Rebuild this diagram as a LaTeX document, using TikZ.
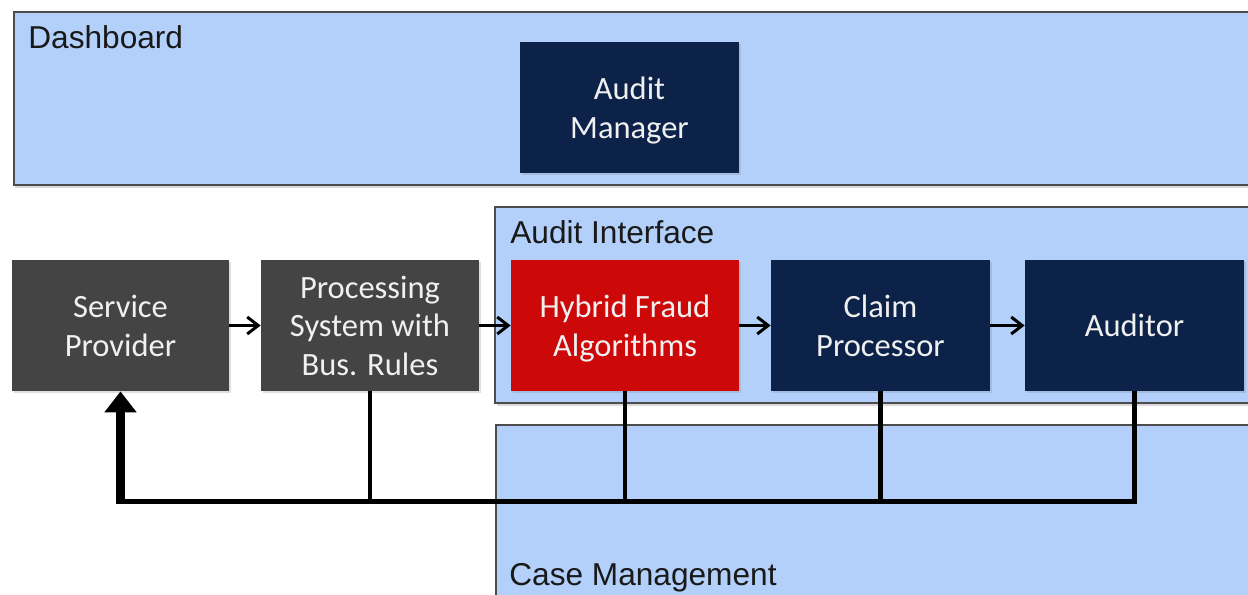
\documentclass[tikz,border=0pt]{standalone}
\usepackage{fontspec}
\setmainfont{Liberation Sans}
\newfontfamily\boxfont{Carlito}
\usetikzlibrary{arrows.meta,shadows}
\definecolor{panelblue}{RGB}{178,208,250}
\definecolor{navy}{RGB}{12,34,72}
\definecolor{slate}{RGB}{68,68,68}
\definecolor{fraudred}{RGB}{204,8,8}

\begin{document}
\begin{tikzpicture}[
    panel/.style={draw=black!70, line width=0.6pt, fill=panelblue,
      drop shadow={opacity=0.3, shadow xshift=0.03cm, shadow yshift=-0.05cm}},
    paneltext/.style={anchor=base west, inner sep=0pt, text=black!90,
      font=\fontsize{18}{22}\selectfont},
    unit/.style={fill=#1, text=white!94!black, minimum width=4.38cm,
      minimum height=2.62cm, align=center, inner sep=0pt, text depth=-1.5pt,
      font=\boxfont\fontsize{18.5}{22}\selectfont,
      drop shadow={opacity=0.25, shadow xshift=0.03cm, shadow yshift=-0.04cm}},
    flow/.style={line width=1.7pt, -{Straight Barb[length=0.22cm,width=0.34cm]}},
    tie/.style={line width=2.3pt}
  ]
			%%%%% START %%%%%
			
			\useasboundingbox (0,0) rectangle (24.96,-11.88);
			\clip (0,0) rectangle (24.96,-11.88);
			
			% panels
			\draw[panel] (0.28,-0.24) rectangle (25.4,-3.70);
			\node[paneltext] (dash) at (0.56,-0.97) {Dashboard};
			
			\draw[panel] (9.90,-4.14) rectangle (25.4,-8.06);
			\node[paneltext] (aif) at (10.20,-4.86) {Audit Interface};
			
			\draw[panel] (9.92,-8.50) rectangle (25.4,-12.4);
			\node[paneltext] (cm) at (10.18,-11.70) {Case Management};
			
			% boxes
			\node[unit=navy] (am) at (12.59,-2.15) {Audit\\Manager};
			
			\node[unit=slate, minimum width=4.34cm] (sp) at (2.41,-6.51) {Service\\Provider};
			\node[unit=slate, minimum width=4.36cm] (ps) at (7.40,-6.51) {Processing\\System with\\Bus. Rules};
			\node[unit=fraudred, minimum width=4.56cm] (hf) at (12.50,-6.51) {Hybrid Fraud\\Algorithms};
			\node[unit=navy] (cp) at (17.61,-6.51) {Claim\\Processor};
			\node[unit=navy] (au) at (22.69,-6.51) {Auditor};
			
			\draw[flow] (sp) -- (ps);
			\draw[flow] (ps) -- (hf);
			\draw[flow] (hf) -- (cp);
			\draw[flow] (cp) -- (au);
			
			% feedback
			\coordinate (loop) at (0,-10.03);
			\draw[tie] (ps.south) -- (ps.south |- loop);
			\draw[tie] (hf.south) -- (hf.south |- loop);
			\draw[tie] (cp.south) -- (cp.south |- loop);
			\draw[line width=2.6pt] (au.south) |- (sp.south |- loop);
			\draw[line width=5.4pt, -{Triangle[length=0.42cm,width=0.62cm]}] ([yshift=-1.3pt]sp.south |- loop) -- (sp.south);
			
			%%%%% END %%%%%
\end{tikzpicture}
\end{document}
